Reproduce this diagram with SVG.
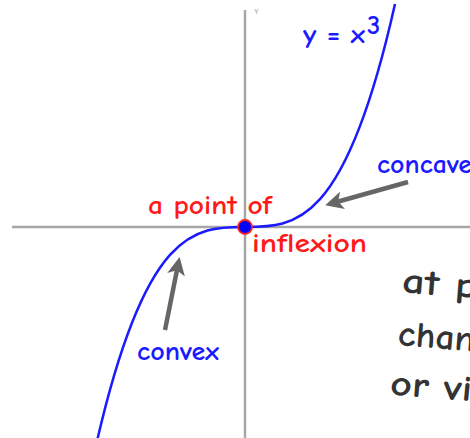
<svg xmlns="http://www.w3.org/2000/svg" width="470" height="438" viewBox="0 0 470 438">
<style>
.axis{stroke:#a6a6a6;stroke-width:2.5;fill:none}
.curve{stroke:#1a1aff;stroke-width:2.5;fill:none}
.arrow{stroke:#666;stroke-width:4.5;fill:none;marker-end:url(#ah)}
.lbl{font-family:"Comic Neue","Liberation Sans",sans-serif;font-size:27px;font-weight:bold}
.blue{fill:#1a1aff}
.red{fill:#ff1a1a}
.note{font-family:"Comic Neue","Liberation Sans",sans-serif;font-size:36px;font-weight:bold;fill:#333}
</style>
<defs>
<marker id="ah" markerWidth="4" markerHeight="4" refX="2.2" refY="2" orient="auto" markerUnits="strokeWidth">
<path d="M0,0 L4,2 L0,4 L1,2 Z" fill="#666"/>
</marker>
</defs>
<rect width="470" height="438" fill="#fff"/>
<g id="axes">
<line class="axis" x1="12" y1="227" x2="470" y2="227"/>
<line class="axis" x1="245" y1="10" x2="245" y2="438"/>
<text x="254" y="14" font-family="Liberation Sans,sans-serif" font-size="7" fill="#999">Y</text>
</g>
<g id="curve">
<path class="curve" d="M95,450 C195,4 295,450 395,4"/>
</g>
<g id="connectors">
<line class="arrow" x1="408" y1="182" x2="333" y2="203"/>
<line class="arrow" x1="165" y1="330" x2="178" y2="265"/>
</g>
<g id="point">
<circle cx="245" cy="227" r="7" fill="#0000ff" stroke="#ff2020" stroke-width="1.8"/>
</g>
<g id="label-eq">
<text class="lbl blue" x="303" y="43" font-size="25" textLength="62" lengthAdjust="spacingAndGlyphs">y = x</text>
<text class="lbl blue" x="367" y="34" font-size="13">3</text>
</g>
<g id="label-concave">
<text class="lbl blue" x="377" y="173" textLength="95" lengthAdjust="spacingAndGlyphs">concave</text>
</g>
<g id="label-inflexion">
<text class="lbl red" x="148" y="214" textLength="124" lengthAdjust="spacingAndGlyphs">a point of</text>
<text class="lbl red" x="252" y="252" textLength="115" lengthAdjust="spacingAndGlyphs">inflexion</text>
</g>
<g id="label-convex">
<text class="lbl blue" x="137" y="360" textLength="82" lengthAdjust="spacingAndGlyphs">convex</text>
</g>
<g id="note" transform="rotate(4.5 420 350)">
<text class="note" x="397" y="294" textLength="76" lengthAdjust="spacingAndGlyphs">at p</text>
<text class="note" x="397" y="347" textLength="77" lengthAdjust="spacingAndGlyphs">chan</text>
<text class="note" x="393" y="397" textLength="82" lengthAdjust="spacingAndGlyphs">or vi</text>
</g>
</svg>
